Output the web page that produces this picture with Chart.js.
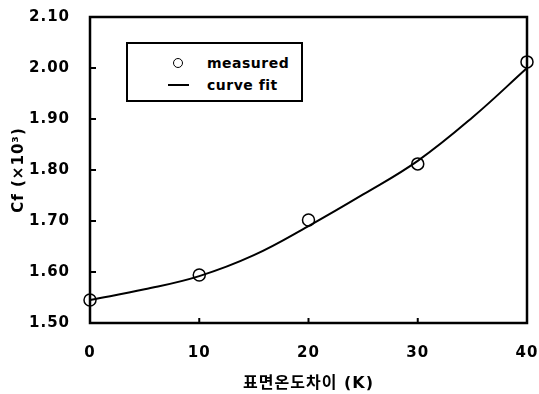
<!DOCTYPE html>
<html>
<head>
<meta charset="utf-8">
<script src="https://cdn.jsdelivr.net/npm/chart.js@4.4.1/dist/chart.umd.min.js"></script>
<style>
  html, body { margin: 0; padding: 0; background: #fff; }
  #wrap { position: relative; width: 539px; height: 394px; }
  #legend {
    position: absolute; left: 126px; top: 42px; width: 173px; height: 56px;
    border: 2px solid #000; background: #fff;
    font: bold 14px 'DejaVu Sans', sans-serif; letter-spacing: 0.5px; color: #000;
  }
  #legend .row { position: absolute; left: 0; height: 20px; line-height: 20px; }
  #legend .mk { position: absolute; left: 45px; top: 5px; width: 8px; height: 8px; border: 1.5px solid #000; border-radius: 50%; }
  #legend .ln { position: absolute; left: 40px; top: 9px; width: 21px; height: 2px; background: #000; }
  #legend .tx { position: absolute; left: 79px; white-space: nowrap; }
</style>
</head>
<body>
<div id="wrap">
  <canvas id="c" width="539" height="394"></canvas>
  <div id="legend">
    <div class="row" style="top:9px"><span class="mk"></span><span class="tx">measured</span></div>
    <div class="row" style="top:31px"><span class="ln"></span><span class="tx">curve fit</span></div>
  </div>
</div>
<script>
/* data */
const tempDiff = [0, 10, 20, 30, 40];
const measuredCf = [1.545, 1.594, 1.702, 1.812, 2.012];

const fitX = [0, 5, 10, 15, 20, 25, 30, 35, 40];
const fitCf = [1.545, 1.566, 1.592, 1.633, 1.690, 1.752, 1.818, 1.903, 2.000];

const FONT = "'DejaVu Sans','Noto Sans CJK KR',sans-serif";
Chart.defaults.font.family = FONT;
Chart.defaults.color = '#000';

/* wider text, like the scanned figure */
const spacingPlugin = {
  id: 'spacing',
  beforeDraw(chart){ chart.ctx.letterSpacing = '1px'; }
};

/* frame round the plot area + inward tick marks */
const framePlugin = {
  id: 'frame',
  beforeDatasetsDraw(chart){
    const { ctx, chartArea: a, scales } = chart;
    ctx.save();
    ctx.strokeStyle = '#000';
    ctx.lineWidth = 2;
    scales.y.ticks.forEach((t, i) => {
      const y = scales.y.getPixelForTick(i);
      ctx.beginPath(); ctx.moveTo(a.left, y); ctx.lineTo(a.left + 6, y); ctx.stroke();
    });
    scales.x.ticks.forEach((t, i) => {
      const x = scales.x.getPixelForTick(i);
      ctx.beginPath(); ctx.moveTo(x, a.bottom); ctx.lineTo(x, a.bottom - 5); ctx.stroke();
    });
    ctx.lineWidth = 2.5;
    ctx.strokeRect(a.left, a.top, a.right - a.left, a.bottom - a.top);
    ctx.restore();
  }
};

new Chart(document.getElementById('c'), {
  type: 'scatter',
  data: {
    datasets: [
      {
        label: 'curve fit',
        data: fitX.map((x, i) => ({ x, y: fitCf[i] })),
        showLine: true,
        borderColor: '#000',
        borderWidth: 2,
        pointRadius: 0,
        tension: 0.4,
        clip: false,
        order: 2,
      },
      {
        label: 'measured',
        data: tempDiff.map((x, i) => ({ x, y: measuredCf[i] })),
        showLine: false,
        pointStyle: 'circle',
        pointRadius: 6,
        pointBorderWidth: 1.5,
        pointBorderColor: '#000',
        pointBackgroundColor: 'rgba(255,255,255,0)',
        clip: false,
        order: 1,
      },
    ],
  },
  options: {
    responsive: false,
    animation: false,
    layout: { padding: { left: 0, top: 17, right: 12, bottom: 0 } },
    plugins: { legend: { display: false }, tooltip: { enabled: false } },
    scales: {
      x: {
        type: 'linear', min: 0, max: 40,
        grid: { display: false },
        border: { display: false },
        ticks: { stepSize: 10, padding: 13, font: { size: 15, weight: 'bold' } },
        title: { display: true, text: '표면온도차이 (K)', font: { size: 16, weight: 'bold' }, padding: { top: 0, bottom: 1 } },
        afterFit(s){ s.height = 71; s.paddingLeft = 0; s.paddingRight = 0; },
      },
      y: {
        min: 1.5, max: 2.1,
        grid: { display: false },
        border: { display: false },
        ticks: { stepSize: 0.1, padding: 12, font: { size: 15, weight: 'bold' }, callback: v => v.toFixed(2) },
        title: { display: true, text: 'Cf (×10³)', font: { size: 15, weight: 'bold' }, padding: { top: 10, bottom: 0 } },
        afterFit(s){ s.width = 90; s.paddingTop = 0; s.paddingBottom = 0; },
      },
    },
  },
  plugins: [spacingPlugin, framePlugin],
});
</script>
</body>
</html>
